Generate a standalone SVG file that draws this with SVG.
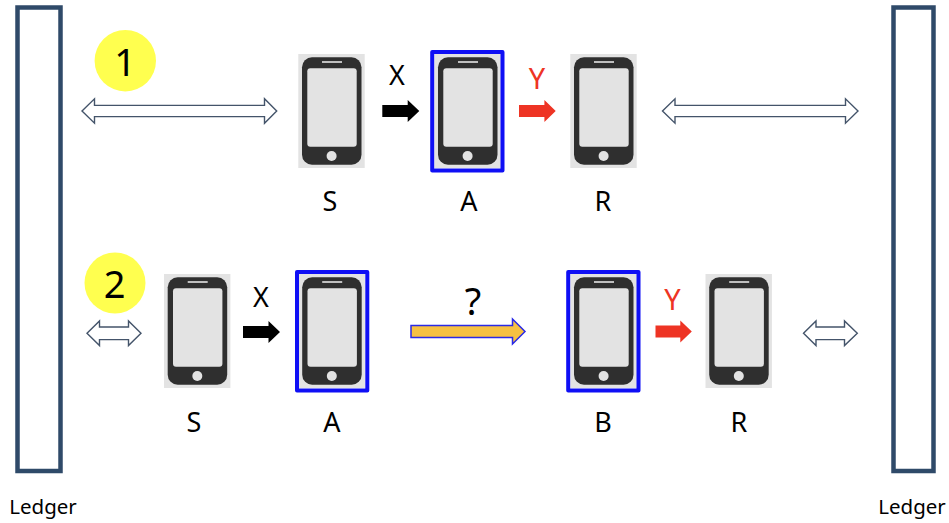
<svg xmlns="http://www.w3.org/2000/svg" width="949" height="523" viewBox="0 0 949 523">
<style>
text{font-family:"Noto Sans","Open Sans",sans-serif;fill:#000;text-anchor:middle}
.lbl{font-size:27px}
.ylbl{font-size:29px}
.num{font-size:38px}
.led{font-size:20.5px}
.red{fill:#ee3424}
.ledger{fill:#fff;stroke:#2f4a69;stroke-width:4.5}
.sel{fill:none;stroke:#0f0ff5;stroke-width:4;stroke-linejoin:round}
.dbl{fill:#fff;stroke:#44546a;stroke-width:1.4}
.badge{fill:#ffff4f}
</style>
<defs>
<g id="phone">
<rect width="66.4" height="114" fill="#e3e3e3"/>
<rect x="3.7" y="3.3" width="59.5" height="107.4" rx="10" fill="#2f2f2f"/>
<rect x="9" y="14.3" width="49.4" height="78.4" rx="3" fill="#e3e3e3"/>
<rect x="23.7" y="7.2" width="20" height="1.6" fill="#e3e3e3"/>
<circle cx="33.3" cy="102" r="5" fill="#e3e3e3"/>
</g>
</defs>
<g id="connectors">
<path class="dbl" d="M82 111L94.5 98.8V105.4H264.5V98.8L276.7 111L264.5 123.2V116.6H94.5V123.2Z"/>
<path class="dbl" d="M662.5 111L675 98.8V105.4H845.5V98.8L858 111L845.5 123.2V116.6H675V123.2Z"/>
<path class="dbl" d="M87 333.3L99.5 321V327H128.5V321L141 333.3L128.5 345.6V339.6H99.5V345.6Z"/>
<path class="dbl" d="M803.5 333.3L816 321V327H844.5V321L857.3 333.3L844.5 345.6V339.6H816V345.6Z"/>
<path fill="#000" d="M382.3 105H407.7V100L419.3 111L407.7 122V117H382.3Z"/>
<path class="red" d="M519 105H544.4V100L555.7 111L544.4 122V117H519Z"/>
<path fill="#000" d="M243 326H268.5V321L280 332L268.5 343V338H243Z"/>
<path class="red" d="M655.5 325.5H680.3V320.5L691.8 331.5L680.3 342.5V337.5H655.5Z"/>
<path fill="#f6c142" stroke="#2a2ae6" stroke-width="1.5" d="M411 325.5H512.5V319L525 331.5L512.5 344V337.5H411Z"/>
</g>
<g id="ledger-left"><rect class="ledger" x="17.5" y="7.5" width="43" height="463.500"/><text class="led" x="43" y="514">Ledger</text></g>
<g id="ledger-right"><rect class="ledger" x="893.500" y="7.5" width="40" height="463.500"/><text class="led" x="912" y="514">Ledger</text></g>
<g id="badge-1"><circle class="badge" cx="125.300" cy="60.700" r="30.700"/><text class="num" x="125" y="75.500">1</text></g>
<g id="badge-2"><circle class="badge" cx="115" cy="283" r="30.500"/><text class="num" x="114.500" y="297.500">2</text></g>
<g id="row1-S"><use href="#phone" x="298.300" y="54"/><text class="lbl" x="330" y="210.500">S</text></g>
<g id="row1-A"><use href="#phone" x="434.300" y="54"/><rect class="sel" x="432.200" y="52" width="70.300" height="118.500"/><text class="lbl" x="469" y="210.500">A</text></g>
<g id="row1-R"><use href="#phone" x="570.300" y="54"/><text class="lbl" x="603" y="210.500">R</text></g>
<g id="row2-S"><use href="#phone" x="164" y="274"/><text class="lbl" x="194" y="431.500">S</text></g>
<g id="row2-A"><use href="#phone" x="298.500" y="274"/><rect class="sel" x="297" y="272" width="70.300" height="118.500"/><text class="lbl" x="332" y="431.500">A</text></g>
<g id="row2-B"><use href="#phone" x="570.300" y="274"/><rect class="sel" x="568.200" y="272" width="70.300" height="118.500"/><text class="lbl" x="603" y="431.500">B</text></g>
<g id="row2-R"><use href="#phone" x="705.500" y="274"/><text class="lbl" x="739" y="431.500">R</text></g>
<g id="labels">
<text class="lbl" x="397" y="85">X</text>
<text class="ylbl red" x="537" y="89">Y</text>
<text class="lbl" x="261" y="307">X</text>
<text class="ylbl red" x="672.500" y="310">Y</text>
<text class="num" x="473" y="315">?</text>
</g>
</svg>
